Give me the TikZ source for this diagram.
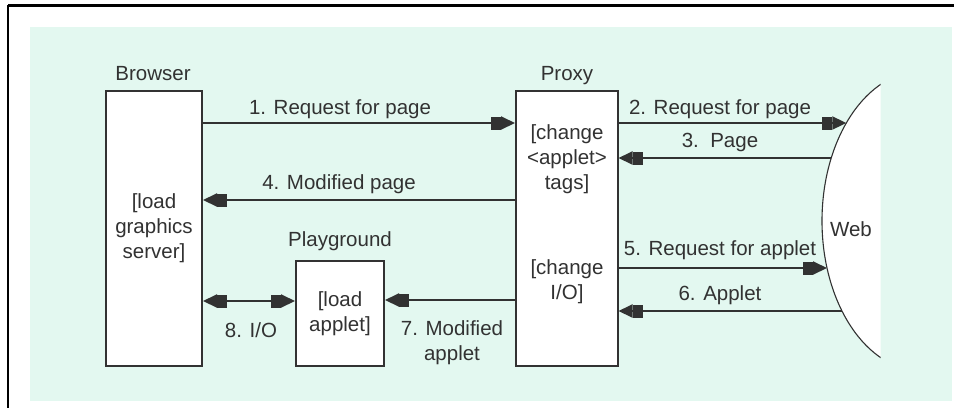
\documentclass[tikz,border=0pt]{standalone}
\usepackage{fontspec}
\setmainfont{Liberation Sans}
\usetikzlibrary{arrows.meta}
\definecolor{mint}{RGB}{227,248,240}
\definecolor{ink}{RGB}{50,50,50}
\begin{document}
\begin{tikzpicture}[x=1pt,y=-1pt,
  font=\fontsize{20.5}{25}\selectfont,
  txt/.style={text=ink, inner sep=0pt},
  lbl/.style={txt, anchor=base},
  box/.style={draw=ink, line width=2pt, fill=white, inner sep=0pt, text=ink, align=center},
  arr/.style={draw=ink, line width=2pt,
    -{Rectangle[length=10pt,width=13pt,sep=0pt]Triangle[length=14pt,width=13pt,sep=0pt]}},
  darr/.style={draw=ink, line width=2pt,
    {Triangle[length=14pt,width=13pt,sep=0pt]Rectangle[length=10pt,width=13pt,sep=0pt]}-{Rectangle[length=10pt,width=13pt,sep=0pt]Triangle[length=14pt,width=13pt,sep=0pt]}}]
\useasboundingbox (0,0) rectangle (954,408);
\fill[white] (0,0) rectangle (954,408);
\fill[mint] (30,27) rectangle (952,401);
\draw[line width=2.7pt] (8,5.7) -- (954,5.7);
\draw[line width=1.7pt] (8,4.5) -- (8,408);

% Web
\begin{scope}
\clip (700,0) rectangle (880.5,408);
\draw[fill=white, draw=ink, line width=1.1pt] (922,221) ellipse [x radius=100pt, y radius=150pt];
\end{scope}
\node[lbl] (lweb) at (851,236) {Web};
\coordinate (w2) at (846.3,123);
\coordinate (w3) at (831.2,158);
\coordinate (w5) at (827,268);
\coordinate (w6) at (842,311);

% boxes
\node[box, minimum width=96pt, minimum height=275pt] (browser) at (154,228.5) {[load\\graphics\\server]};
\node[box, minimum width=101.5pt, minimum height=275pt] (proxy) at (566.75,228.5) {};
\node[txt, align=center] (ptop) at (567,159) {[change\\<applet>\\tags]};
\node[txt, align=center] (pbot) at (567,282) {[change\\I/O]};
\node[box, minimum width=88pt, minimum height=105pt] (play) at (340,313.5) {[load\\applet]};

\node[lbl] (lbrowser) at (153,80) {Browser};
\node[lbl] (lproxy) at (567,80) {Proxy};
\node[lbl] (lplay) at (340,246) {Playground};

% arrows
\draw[arr] (browser.east |- 0,123) -- (proxy.west |- 0,123);
\draw[arr] (proxy.east |- 0,123) -- (w2);
\draw[arr] (w3) -- (proxy.east |- 0,158);
\draw[arr] (proxy.west |- 0,200) -- (browser.east |- 0,200);
\draw[arr] (proxy.east |- 0,268) -- (w5);
\draw[arr] (w6) -- (proxy.east |- 0,311);
\draw[arr] (proxy.west |- 0,300) -- (play.east |- 0,300);
\draw[darr] (browser.east |- 0,301) -- (play.west |- 0,301);

% labels
\node[lbl] (l1) at (340,114) {1. Request for page};
\node[lbl] (l2) at (720,114) {2. Request for page};
\node[lbl] (l3) at (720,147.3) {3.\ \ Page};
\node[lbl] (l4) at (339,189.3) {4. Modified page};
\node[lbl] (l5) at (720,255) {5. Request for applet};
\node[lbl] (l6) at (720,300.7) {6. Applet};
\node[txt, align=center] (l7) at (452,343) {7. Modified\\applet};
\node[lbl] (l8) at (251,337.3) {8. I/O};
\end{tikzpicture}
\end{document}
